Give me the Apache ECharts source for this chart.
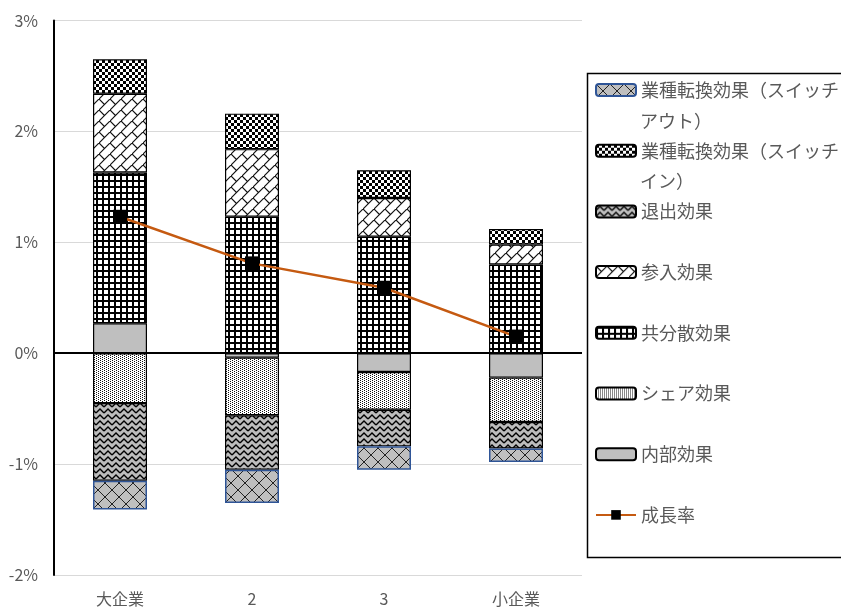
<!DOCTYPE html>
<html>
<head>
<meta charset="utf-8">
<script src="https://cdn.jsdelivr.net/npm/echarts@6/dist/echarts.min.js"></script>
<style>
  html, body { margin: 0; padding: 0; background: #fff; }
  #chart { width: 841px; height: 609px; }
</style>
</head>
<body>
<div id="chart"></div>
<script>
// Categories and decomposition of the growth rate (percentage points)
const categories = ['大企業', '2', '3', '小企業'];
const internalEffect   = [0.27, -0.04, -0.17, -0.22];
const shareEffect      = [-0.45, -0.52, -0.34, -0.40];
const covarianceEffect = [1.36, 1.23, 1.05, 0.80];
const entryEffect      = [0.71, 0.61, 0.35, 0.18];
const exitEffect       = [-0.70, -0.49, -0.33, -0.24];
const switchInEffect   = [0.31, 0.32, 0.25, 0.14];
const switchOutEffect  = [-0.26, -0.30, -0.21, -0.12];
const growthRate       = [1.23, 0.81, 0.59, 0.15];

const yMin = -2, yMax = 3, yStep = 1;

const seriesNames = {
  internal: '内部効果',
  share: 'シェア効果',
  covariance: '共分散効果',
  entry: '参入効果',
  exit: '退出効果',
  switchIn: '業種転換効果（スイッチイン）',
  switchOut: '業種転換効果（スイッチアウト）',
  growth: '成長率'
};

// Small canvas tiles used as repeating fill patterns
function tile(w, h, draw) {
  const c = document.createElement('canvas');
  c.width = w; c.height = h;
  const g = c.getContext('2d');
  draw(g, w, h);
  return { image: c, repeat: 'repeat' };
}

const patShare = tile(4, 4, (g) => {
  g.fillStyle = '#fff'; g.fillRect(0, 0, 4, 4);
  g.fillStyle = '#111';
  g.fillRect(0, 0, 1, 1); g.fillRect(0, 2, 1, 1);
  g.fillRect(2, 1, 1, 1); g.fillRect(2, 3, 1, 1);
});
const patCovariance = tile(6, 6, (g) => {
  g.fillStyle = '#fff'; g.fillRect(0, 0, 6, 6);
  g.fillStyle = '#000';
  g.fillRect(0, 0, 6, 2); g.fillRect(0, 0, 2, 6);
});
const patEntry = tile(11, 11, (g) => {
  g.fillStyle = '#fff'; g.fillRect(0, 0, 11, 11);
  g.strokeStyle = '#111'; g.lineWidth = 1.2;
  g.beginPath();
  g.moveTo(-1, 12); g.lineTo(12, -1);
  g.moveTo(0, 0); g.lineTo(5.5, 5.5);
  g.stroke();
});
const patExit = tile(8, 6, (g) => {
  g.fillStyle = '#bdbdbd'; g.fillRect(0, 0, 8, 6);
  g.strokeStyle = '#000'; g.lineWidth = 1.4;
  g.beginPath();
  g.moveTo(0, 5); g.lineTo(4, 1); g.lineTo(8, 5);
  g.stroke();
});
const patSwitchIn = tile(6, 6, (g) => {
  g.fillStyle = '#fff'; g.fillRect(0, 0, 6, 6);
  g.fillStyle = '#000';
  g.fillRect(0, 0, 3, 3); g.fillRect(3, 3, 3, 3);
});
const patSwitchOut = tile(14, 14, (g) => {
  g.fillStyle = '#bfbfbf'; g.fillRect(0, 0, 14, 14);
  g.strokeStyle = '#222'; g.lineWidth = 1;
  g.beginPath();
  g.moveTo(0, 0); g.lineTo(14, 14);
  g.moveTo(14, 0); g.lineTo(0, 14);
  g.stroke();
});

const fontCJK = 'Noto Sans CJK JP';
const barBase = { type: 'bar', stack: 'total', barWidth: 54 };

function bar(name, data, fill, border) {
  return Object.assign({}, barBase, {
    name: name,
    data: data,
    itemStyle: { color: fill, borderColor: border || '#000', borderWidth: border ? 1.5 : 1.2 }
  });
}

const chart = echarts.init(document.getElementById('chart'), null, { renderer: 'canvas' });

const legendOrder = [
  seriesNames.switchOut, seriesNames.switchIn, seriesNames.exit, seriesNames.entry,
  seriesNames.covariance, seriesNames.share, seriesNames.internal, seriesNames.growth
];

chart.setOption({
  animation: false,
  backgroundColor: '#fff',
  textStyle: { fontFamily: fontCJK },
  grid: { left: 54, right: 259, top: 20.5, bottom: 34, containLabel: false },
  xAxis: {
    type: 'category',
    data: categories,
    axisLine: { show: false, onZero: false },
    axisTick: { show: false },
    axisLabel: { color: '#595959', fontSize: 16, margin: 16, fontFamily: fontCJK }
  },
  yAxis: {
    type: 'value',
    min: yMin, max: yMax, interval: yStep,
    axisLine: { show: true, lineStyle: { color: '#000', width: 2 } },
    axisTick: { show: false },
    splitLine: { lineStyle: { color: '#d9d9d9', width: 1 } },
    axisLabel: { color: '#595959', fontSize: 16, margin: 16, formatter: '{value}%', fontFamily: fontCJK }
  },
  legend: {
    orient: 'vertical',
    left: 595, top: 80, padding: 0,
    itemWidth: 40, itemHeight: 12, itemGap: 40.7,
    data: legendOrder,
    formatter: (name) => name.length > 11 ? name.slice(0, 11) : name,
    textStyle: { fontSize: 18, color: '#595959', lineHeight: 20, fontFamily: fontCJK }
  },
  graphic: [
    {
      type: 'rect', silent: true, z: 0,
      shape: { x: 587.5, y: 73.5, width: 300, height: 484 },
      style: { fill: 'none', stroke: '#000', lineWidth: 1.5 }
    },
    {
      type: 'text', silent: true, left: 640, top: 112,
      style: { text: seriesNames.switchOut.slice(11), fill: '#595959', font: '18px "' + fontCJK + '"' }
    },
    {
      type: 'text', silent: true, left: 640, top: 172,
      style: { text: seriesNames.switchIn.slice(11), fill: '#595959', font: '18px "' + fontCJK + '"' }
    }
  ],
  series: [
    bar(seriesNames.internal, internalEffect, '#bfbfbf'),
    bar(seriesNames.share, shareEffect, patShare),
    bar(seriesNames.covariance, covarianceEffect, patCovariance),
    bar(seriesNames.entry, entryEffect, patEntry),
    bar(seriesNames.exit, exitEffect, patExit),
    bar(seriesNames.switchIn, switchInEffect, patSwitchIn),
    Object.assign(bar(seriesNames.switchOut, switchOutEffect, patSwitchOut, '#2f5597'), {
      markLine: {
        silent: true, symbol: 'none', label: { show: false },
        lineStyle: { color: '#000', width: 2, type: 'solid' },
        data: [{ yAxis: 0 }]
      }
    }),
    {
      type: 'line',
      name: seriesNames.growth,
      data: growthRate,
      z: 5,
      symbol: 'rect',
      symbolSize: 14,
      lineStyle: { color: '#c55a11', width: 2.5 },
      itemStyle: { color: '#000' }
    }
  ]
});
</script>
</body>
</html>
